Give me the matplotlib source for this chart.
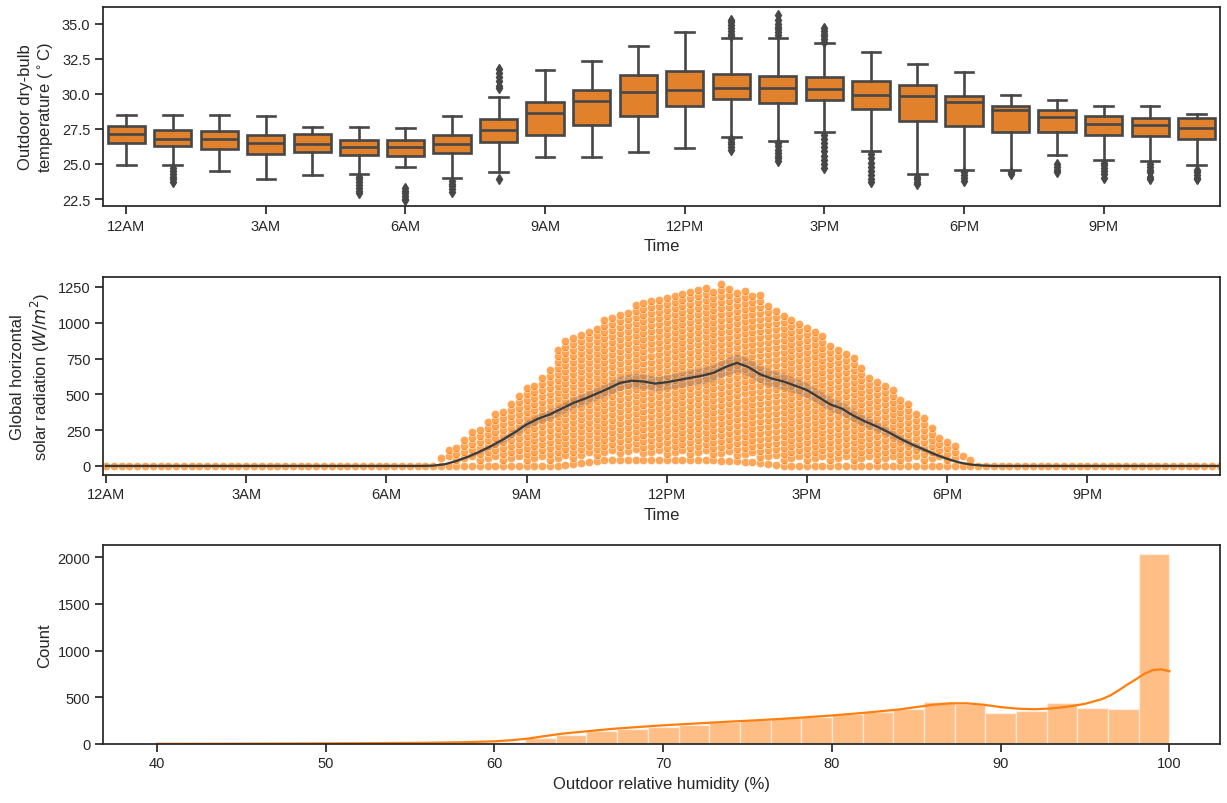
import numpy as np
import matplotlib.pyplot as plt

plt.rcParams['font.family'] = ['Liberation Sans', 'DejaVu Sans']
plt.rcParams['axes.edgecolor'] = '#262626'
plt.rcParams['axes.linewidth'] = 1.25
plt.rcParams['xtick.color'] = '#262626'
plt.rcParams['ytick.color'] = '#262626'
plt.rcParams['xtick.major.size'] = 5.5
plt.rcParams['ytick.major.size'] = 5.5
plt.rcParams['xtick.major.width'] = 1.25
plt.rcParams['ytick.major.width'] = 1.25
plt.rcParams['xtick.labelsize'] = 10.5
plt.rcParams['ytick.labelsize'] = 10.5
plt.rcParams['axes.labelsize'] = 12
plt.rcParams['axes.labelcolor'] = '#262626'

hour_ticks = [0, 3, 6, 9, 12, 15, 18, 21]
hour_labels = ['12AM', '3AM', '6AM', '9AM', '12PM', '3PM', '6PM', '9PM']

# --- dry-bulb temperature, box stats per hour (0..23)
temp_whishi = [28.5, 28.5, 28.5, 28.44, 27.65, 27.65, 27.54, 28.44, 29.76, 31.68, 32.32, 33.39,
               34.41, 33.98, 34.0, 33.63, 33.0, 32.13, 31.6, 29.9, 29.55, 29.12, 29.12, 28.6]
temp_q3 = [27.7, 27.46, 27.35, 27.1, 27.13, 26.73, 26.73, 27.06, 28.18, 29.43, 30.26, 31.33,
           31.66, 31.4, 31.3, 31.18, 30.95, 30.66, 29.86, 29.15, 28.84, 28.41, 28.25, 28.25]
temp_med = [27.16, 26.8, 26.75, 26.5, 26.45, 26.18, 26.18, 26.45, 27.46, 28.65, 29.5, 30.14,
            30.3, 30.43, 30.43, 30.36, 29.93, 29.83, 29.43, 28.84, 28.36, 27.84, 27.77, 27.54]
temp_q1 = [26.5, 26.28, 26.07, 25.7, 25.88, 25.66, 25.6, 25.76, 26.54, 27.1, 27.75, 28.44,
           29.15, 29.62, 29.38, 29.57, 28.9, 28.06, 27.7, 27.3, 27.3, 27.1, 27.0, 26.78]
temp_whislo = [24.93, 24.9, 24.5, 23.9, 24.2, 24.3, 24.8, 23.98, 24.4, 25.47, 25.5, 25.88,
               26.11, 26.94, 26.64, 27.3, 25.92, 24.27, 24.57, 24.57, 25.64, 25.28, 25.2, 24.93]
temp_fliers = [
    [],
    [24.7, 24.5, 24.3, 24.1, 23.9, 23.7],
    [],
    [],
    [],
    [24.1, 23.9, 23.7, 23.5, 23.3, 23.1, 22.9],
    [23.3, 23.1, 22.9, 22.7, 22.5, 22.4],
    [23.8, 23.6, 23.4, 23.2, 23.0],
    [31.8, 31.5, 31.2, 30.9, 30.6, 30.4, 23.9],
    [],
    [],
    [],
    [],
    [35.3, 35.1, 34.9, 34.7, 34.5, 34.3, 34.1, 26.8, 26.6, 26.4, 26.2, 26.0],
    [35.6, 35.3, 35.0, 34.8, 34.6, 34.4, 34.2, 26.5, 26.3, 26.0, 25.8, 25.6, 25.4, 25.2],
    [34.7, 34.5, 34.3, 34.1, 33.9, 33.7, 27.1, 26.8, 26.5, 26.2, 25.9, 25.6, 25.3, 25.0, 24.7],
    [25.7, 25.4, 25.1, 24.8, 24.5, 24.2, 23.9, 23.7],
    [24.1, 23.9, 23.7, 23.6],
    [24.4, 24.2, 24.0, 23.8],
    [24.4, 24.25],
    [25.0, 24.8, 24.6, 24.4],
    [25.1, 24.9, 24.7, 24.5, 24.3, 24.0],
    [25.0, 24.8, 24.6, 24.4, 24.1, 23.9],
    [24.6, 24.4, 24.2, 24.0, 23.9],
]

# --- global horizontal radiation: mean line and its CI half width
rad_hours = [0.0, 6.75] + list(np.arange(7.0, 19.01, 0.25)) + [23.83]
rad_mean = [0, 0,
            2, 12, 35, 65, 100, 140, 185, 235, 290, 330, 360, 400, 440, 470, 505, 540,
            580, 595, 590, 575, 585, 600, 615, 630, 650, 690, 720, 690, 640, 610, 590, 560,
            530, 480, 430, 400, 350, 310, 275, 235, 190, 150, 115, 80, 50, 25, 10, 3, 0,
            0]
rad_ci = [0, 0,
          0, 3, 6, 10, 14, 18, 22, 26, 30, 33, 36, 38, 40, 42, 44, 46, 48, 50, 50, 50,
          50, 52, 54, 56, 58, 60, 62, 62, 60, 58, 56, 54, 52, 50, 48, 45, 42, 38, 34, 30,
          26, 22, 18, 14, 10, 6, 3, 1, 0,
          0]

# envelope of the individual readings
env_hours = [0, 6.9, 7.0, 7.25, 7.5, 7.75, 8.0, 8.25, 8.5, 8.75, 9.0, 9.25, 9.5, 9.75,
             10.0, 10.25, 10.5, 10.75, 11.0, 11.5, 12.0, 12.5, 13.0, 13.25, 13.5, 14.0,
             14.25, 14.5, 14.75, 15.0, 15.5, 16.0, 16.5, 17.0, 17.5, 18.0, 18.25, 18.5,
             18.75, 19.0, 23.83]
rad_max = [0, 0, 30, 90, 160, 230, 290, 350, 400, 460, 560, 600, 680, 880, 900, 930, 1000,
           1040, 1080, 1160, 1210, 1230, 1255, 1275, 1250, 1200, 1130, 1080, 1035, 1000,
           880, 770, 600, 500, 340, 180, 120, 70, 30, 0, 0]
rad_min = [0] * 14 + [15, 25, 35, 40, 45, 45, 40, 40, 40, 35, 35, 20, 10] + [0] * 14

# --- relative humidity histogram (33 bins between 40 and 100)
hum_counts = [2, 1, 2, 3, 4, 6, 8, 10, 12, 14, 16, 25, 60, 98, 135, 157, 178, 200, 239, 257,
              275, 293, 321, 346, 371, 446, 425, 335, 357, 443, 389, 378, 2032]
hum_kde_x = [40, 44, 48, 52, 56, 58, 60, 61, 62, 63, 64, 65, 66, 67, 68, 70, 72, 74, 76, 78,
             80, 82, 84, 85, 86, 87, 88, 89, 90, 91, 92, 93, 94, 95, 96, 96.5, 97, 97.5, 98,
             98.5, 99, 99.5, 100]
hum_kde_y = [2, 3, 5, 8, 13, 18, 29, 40, 58, 85, 110, 128, 145, 162, 175, 200, 220, 240, 258,
             280, 305, 335, 370, 395, 420, 435, 435, 420, 395, 378, 372, 380, 400, 430, 480,
             520, 575, 635, 690, 750, 790, 800, 778]

orange = '#ff7f0e'
box_orange = '#e1812c'
dark = '#474747'

fig = plt.figure(figsize=(12.27, 8.04), dpi=100)
ax1 = fig.add_axes([0.0839, 0.7425, 0.9104, 0.2475])
ax2 = fig.add_axes([0.0839, 0.408, 0.9104, 0.2463])
ax3 = fig.add_axes([0.0839, 0.0734, 0.9104, 0.2475])

# top: boxplot
stats = []
for i in range(24):
    stats.append(dict(med=temp_med[i], q1=temp_q1[i], q3=temp_q3[i],
                      whislo=temp_whislo[i], whishi=temp_whishi[i],
                      fliers=temp_fliers[i]))
ax1.bxp(stats, positions=range(24), widths=0.8, patch_artist=True,
        boxprops=dict(facecolor=box_orange, edgecolor=dark, linewidth=1.9),
        medianprops=dict(color=dark, linewidth=1.9),
        whiskerprops=dict(color=dark, linewidth=1.9),
        capprops=dict(color=dark, linewidth=1.9),
        flierprops=dict(marker='d', markerfacecolor=dark, markeredgecolor=dark,
                        markersize=5))
ax1.set_xlim(-0.5, 23.5)
ax1.set_ylim(22.0, 36.2)
ax1.set_yticks([22.5, 25.0, 27.5, 30.0, 32.5, 35.0])
ax1.set_xticks(hour_ticks)
ax1.set_xticklabels(hour_labels)
ax1.set_xlabel('Time')
ax1.set_ylabel('Outdoor dry-bulb\ntemperature ($^\\circ$C)')

# middle: readings + mean line
step = 42
xs, ys = [], []
for i, t in enumerate(np.arange(0, 23.84, 1 / 6)):
    hi = np.interp(t, env_hours, rad_max)
    lo = np.interp(t, env_hours, rad_min)
    lev = [lo] + list(np.arange(lo + step * (1 + (i % 3) / 3), hi + 1, step))
    xs += [t] * len(lev)
    ys += lev
ax2.scatter(xs, ys, s=36, color=orange, alpha=0.7, edgecolor='white', linewidth=0.5,
            zorder=2)
rm = np.array(rad_mean, dtype=float)
rc = np.array(rad_ci, dtype=float)
ax2.fill_between(rad_hours, rm - rc, rm + rc, color='#555555', alpha=0.25, lw=0, zorder=3)
ax2.plot(rad_hours, rad_mean, color='#3a3a3a', lw=1.6, zorder=4)
ax2.set_xlim(-0.065, 23.84)
ax2.set_ylim(-63, 1320)
ax2.set_yticks([0, 250, 500, 750, 1000, 1250])
ax2.set_xticks(hour_ticks)
ax2.set_xticklabels(hour_labels)
ax2.set_xlabel('Time')
ax2.set_ylabel('Global horizontal\nsolar radiation ($W/m^2$)')

# bottom: histogram + kde
edges = np.linspace(40, 100, len(hum_counts) + 1)
ax3.bar(edges[:-1], hum_counts, width=np.diff(edges), align='edge', color=orange,
        alpha=0.5, edgecolor='white', linewidth=1)
ax3.plot(hum_kde_x, hum_kde_y, color=orange, lw=1.6)
ax3.set_xlim(36.8, 103.0)
ax3.set_ylim(0, 2130)
ax3.set_yticks([0, 500, 1000, 1500, 2000])
ax3.set_xticks([40, 50, 60, 70, 80, 90, 100])
ax3.set_xlabel('Outdoor relative humidity (%)')
ax3.set_ylabel('Count')

fig.savefig('out.png', dpi=100)
